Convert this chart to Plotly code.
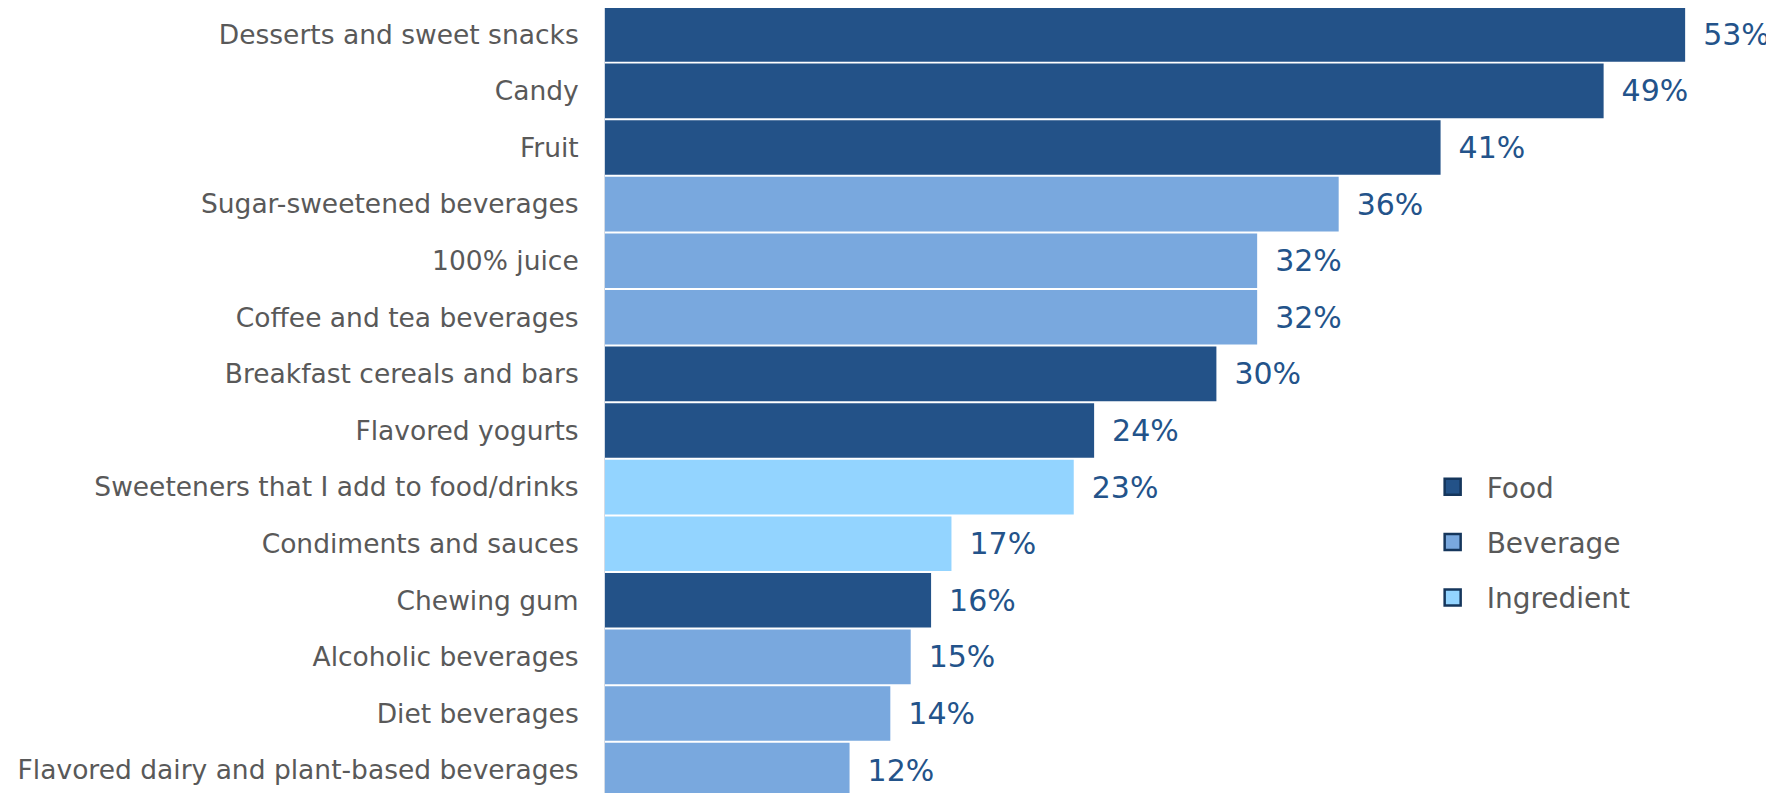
import plotly.graph_objects as go

categories = [
    "Desserts and sweet snacks", "Candy", "Fruit", "Sugar-sweetened beverages",
    "100% juice", "Coffee and tea beverages", "Breakfast cereals and bars",
    "Flavored yogurts", "Sweeteners that I add to food/drinks",
    "Condiments and sauces", "Chewing gum", "Alcoholic beverages",
    "Diet beverages", "Flavored dairy and plant-based beverages",
]
values = [53, 49, 41, 36, 32, 32, 30, 24, 23, 17, 16, 15, 14, 12]
groups = ["Food", "Food", "Food", "Beverage", "Beverage", "Beverage", "Food",
          "Food", "Ingredient", "Ingredient", "Food", "Beverage", "Beverage", "Beverage"]
group_names = ["Food", "Beverage", "Ingredient"]
group_colors = {"Food": "#235288", "Beverage": "#79a8de", "Ingredient": "#93d4ff"}

FONT = "DejaVu Sans"
fig = go.Figure()
fig.add_trace(go.Bar(
    y=categories, x=values, orientation="h",
    marker=dict(color=[group_colors[g] for g in groups], line=dict(width=0)),
    text=[f"\u2002{v}%" for v in values], textposition="outside",
    textfont=dict(family=FONT, size=30, color="#23538a"),
    cliponaxis=False, showlegend=False, hoverinfo="skip",
))
for g in group_names:
    fig.add_trace(go.Scatter(
        x=[None], y=[None], mode="markers", name="\u2002" + g, legendgroup=g,
        marker=dict(symbol="square", size=20, color=group_colors[g],
                    line=dict(color="#15365c", width=2.5)),
    ))

# page body has an 8px default margin, so the figure is 8px smaller than the window
fig.update_layout(
    width=1766, height=785,
    margin=dict(l=597, r=0, t=0, b=0, autoexpand=False),
    paper_bgcolor="white", plot_bgcolor="white",
    bargap=0.035,
    font=dict(family=FONT, color="#595959"),
    legend=dict(x=0.708, y=0.4217, xanchor="left", yanchor="top",
                font=dict(family=FONT, size=28, color="#595959"),
                tracegroupgap=16, bgcolor="rgba(0,0,0,0)"),
)
fig.update_xaxes(range=[0, 57.36], visible=False, showgrid=False, zeroline=False)
fig.update_yaxes(
    categoryorder="array", categoryarray=categories,
    range=[13.405, -0.465], autorange=False,
    showline=True, linecolor="#d3dbe6", linewidth=1,
    showgrid=False, ticks="", ticklabelstandoff=20,
    tickfont=dict(family=FONT, size=26.5, color="#595959"),
)
fig.write_html("out.html")
